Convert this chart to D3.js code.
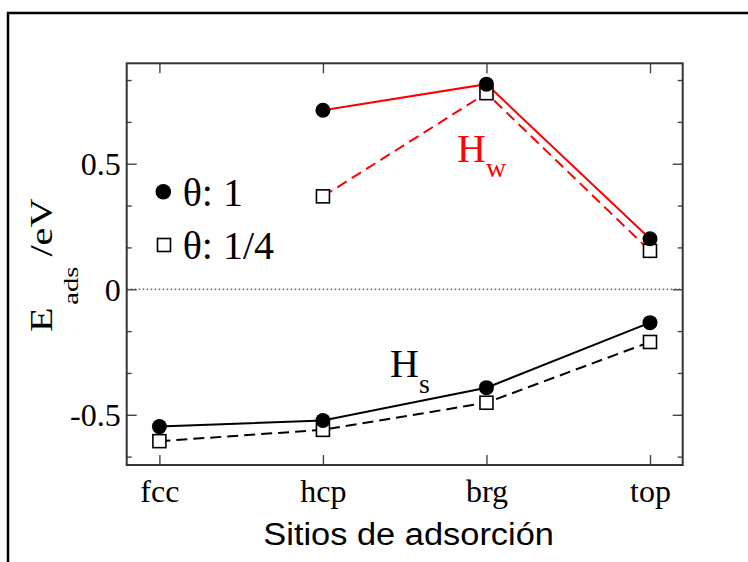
<!DOCTYPE html>
<html><head><meta charset="utf-8">
<script src="https://cdn.jsdelivr.net/npm/d3@7"></script>
<style>html,body{margin:0;padding:0;background:#fff;} svg{display:block;}</style>
</head><body>
<script>
const categories = ["fcc", "hcp", "brg", "top"];
const hsTheta1  = [-0.547, -0.523, -0.392, -0.133];
const hsTheta14 = [-0.605, -0.560, -0.452, -0.210];
const hwTheta1  = [null, 0.713, 0.817, 0.201];
const hwTheta14 = [null, 0.370, 0.781, 0.153];
const yMajorTicks = [-0.5, 0, 0.5];
const yMinorTicks = [-2/3, -1/3, -1/6, 1/6, 1/3, 2/3, 5/6];
const legendLabels = ["θ: 1", "θ: 1/4"];

const W = 748, H = 562;
const L = 126.7, R = 682.7, T = 63.3, B = 465;
const serif = "'Liberation Serif','Times New Roman',serif";
const sans = "'Liberation Sans',Arial,sans-serif";

const svg = d3.select("body").append("svg").attr("width", W).attr("height", H);

// outer page border
svg.append("rect").attr("x", 8).attr("y", 13).attr("width", 800).attr("height", 600)
  .attr("fill", "none").attr("stroke", "#000").attr("stroke-width", 2.5);

const x = d3.scaleLinear().domain([-0.2, 3.2]).range([L, R]);
const y = d3.scaleLinear().domain([-0.7, 0.9]).range([B, T]);
const xi = categories.map((c, i) => i);

// zero dotted line
svg.append("line").attr("x1", L).attr("x2", R).attr("y1", y(0)).attr("y2", y(0))
  .attr("stroke", "#666").attr("stroke-width", 1.3).attr("stroke-dasharray", "1.5,2.5");

function styleAxis(g) {
  g.select(".domain").remove();
  g.selectAll(".tick line").attr("stroke", "#444").attr("stroke-width", 1.4);
  g.selectAll("text").attr("font-family", serif).attr("font-size", 32).attr("fill", "#000");
}

// left axis
svg.append("g").attr("transform", `translate(${L},0)`)
  .call(d3.axisLeft(y).tickValues(yMajorTicks).tickSizeInner(-10).tickSizeOuter(0).tickPadding(6)
    .tickFormat(d => d === 0 ? "0" : d3.format(".1f")(d).replace("−", "-")))
  .call(styleAxis)
  .call(g => g.selectAll("text").attr("dy", "0.34em"));
svg.append("g").attr("transform", `translate(${L},0)`)
  .call(d3.axisLeft(y).tickValues(yMinorTicks).tickSizeInner(-5).tickSizeOuter(0).tickFormat(""))
  .call(styleAxis);
// right axis
svg.append("g").attr("transform", `translate(${R},0)`)
  .call(d3.axisRight(y).tickValues(yMajorTicks).tickSizeInner(-10).tickSizeOuter(0).tickFormat(""))
  .call(styleAxis);
svg.append("g").attr("transform", `translate(${R},0)`)
  .call(d3.axisRight(y).tickValues(yMinorTicks).tickSizeInner(-5).tickSizeOuter(0).tickFormat(""))
  .call(styleAxis);
// bottom axis
svg.append("g").attr("transform", `translate(0,${B})`)
  .call(d3.axisBottom(x).tickValues(xi).tickSizeInner(-10).tickSizeOuter(0).tickPadding(14)
    .tickFormat(i => categories[i]))
  .call(styleAxis)
  .call(g => g.selectAll("text").attr("dy", "0.71em"));
// top axis
svg.append("g").attr("transform", `translate(0,${T})`)
  .call(d3.axisTop(x).tickValues(xi).tickSizeInner(-10).tickSizeOuter(0).tickFormat(""))
  .call(styleAxis);

// frame
svg.append("rect").attr("x", L).attr("y", T).attr("width", R - L).attr("height", B - T)
  .attr("fill", "none").attr("stroke", "#333").attr("stroke-width", 2);

const line = d3.line().defined(d => d[1] !== null).x(d => x(d[0])).y(d => y(d[1]));
function series(vals, color, dashed) {
  svg.append("path").datum(vals.map((v, i) => [i, v]))
    .attr("d", line).attr("fill", "none").attr("stroke", color).attr("stroke-width", 2)
    .attr("stroke-dasharray", dashed ? "11,6" : null);
}
series(hwTheta1, "#ff0000", false);
series(hwTheta14, "#ff0000", true);
series(hsTheta1, "#000", false);
series(hsTheta14, "#000", true);

function squares(vals) {
  svg.append("g").selectAll("rect").data(vals.map((v, i) => [i, v]).filter(d => d[1] !== null))
    .join("rect").attr("x", d => x(d[0]) - 6.5).attr("y", d => y(d[1]) - 6.5)
    .attr("width", 13).attr("height", 13).attr("fill", "#fff").attr("stroke", "#000").attr("stroke-width", 1.6);
}
function circles(vals) {
  svg.append("g").selectAll("circle").data(vals.map((v, i) => [i, v]).filter(d => d[1] !== null))
    .join("circle").attr("cx", d => x(d[0])).attr("cy", d => y(d[1])).attr("r", 7.5).attr("fill", "#000");
}
squares(hwTheta14); squares(hsTheta14);
circles(hwTheta1); circles(hsTheta1);

// legend
svg.append("circle").attr("cx", 163.3).attr("cy", 191.7).attr("r", 7.8).attr("fill", "#000");
svg.append("rect").attr("x", 157.5).attr("y", 238.5).attr("width", 13).attr("height", 13)
  .attr("fill", "#fff").attr("stroke", "#000").attr("stroke-width", 1.6);
svg.append("text").attr("x", 182.7).attr("y", 205.5).attr("font-family", serif).attr("font-size", 40).text(legendLabels[0]);
svg.append("text").attr("x", 182.7).attr("y", 258.5).attr("font-family", serif).attr("font-size", 40).text(legendLabels[1]);

// series labels
function subLabel(xp, yp, color, main, sub, dy) {
  const t = svg.append("text").attr("x", xp).attr("y", yp).attr("font-family", serif).attr("fill", color);
  t.append("tspan").attr("font-size", 40).text(main);
  t.append("tspan").attr("font-size", 28).attr("dy", dy).text(sub);
}
subLabel(457, 161.7, "#ff0000", "H", "w", 15);
subLabel(390, 376.7, "#000", "H", "s", 16);

// y axis title (stretched along its reading direction)
const yt = svg.append("text").attr("transform", "translate(52,332) rotate(-90) scale(1.3,1)")
  .attr("font-family", serif).attr("fill", "#000");
yt.append("tspan").attr("x", 0).attr("y", 0).attr("font-size", 31).text("E");
yt.append("tspan").attr("x", 21).attr("y", 26).attr("font-size", 22).text("ads");
yt.append("tspan").attr("x", 58).attr("y", 0).attr("font-size", 31).text("/eV");

// x axis title
svg.append("text").attr("x", 263.3).attr("y", 545).attr("font-family", sans).attr("font-size", 31)
  .attr("textLength", 290.7).attr("lengthAdjust", "spacingAndGlyphs").text("Sitios de adsorción");
</script>
</body></html>
